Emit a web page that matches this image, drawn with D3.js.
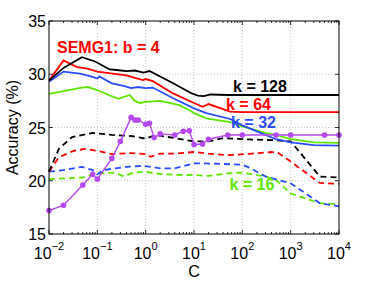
<!DOCTYPE html>
<html>
<head>
<meta charset="utf-8">
<script src="https://cdn.jsdelivr.net/npm/d3@7"></script>
<style>
  body { margin: 0; background: #fff; }
  svg { display: block; font-family: "Liberation Sans", Arial, sans-serif; }
</style>
</head>
<body>
<svg id="chart" width="374" height="281"></svg>
<script>
// values
const c128 = [0.01, 0.02, 0.048, 0.09, 0.18, 0.25, 0.4, 0.6, 0.9, 1.2, 3.7, 9, 12, 16, 22, 50, 10000];
const k128 = [29.4, 30.6, 31.6, 31.2, 30.45, 30.4, 30.3, 30.35, 30.15, 30.3, 29.15, 28.2, 28.0, 27.95, 28.1, 28.05, 28.05];

const c64 = [0.01, 0.02, 0.037, 0.065, 0.1, 0.4, 0.87, 1.0, 1.4, 3.7, 10, 15, 20, 56, 100, 10000];
const k64 = [29.4, 31.3, 30.7, 30.5, 30.25, 29.9, 29.45, 29.55, 29.35, 28.2, 27.3, 26.95, 27.2, 26.5, 26.45, 26.45];

const c32 = [0.01, 0.02, 0.044, 0.08, 0.1, 0.11, 0.2, 0.35, 0.5, 0.7, 1, 1.4, 3.7, 10, 18, 56, 100, 300, 500, 1000, 3000, 10000];
const k32 = [29.3, 30.25, 30.05, 29.75, 29.6, 29.8, 29.15, 28.9, 28.7, 28.8, 28.7, 28.75, 27.75, 26.8, 26.35, 25.8, 25.2, 24.3, 23.9, 23.6, 23.35, 23.3];

const c16 = [0.01, 0.048, 0.065, 0.1, 0.27, 0.47, 0.52, 0.6, 0.77, 1.0, 2, 5, 8.3, 10, 18, 56, 100, 300, 500, 1000, 3000, 10000];
const k16 = [28.15, 28.75, 28.8, 28.5, 27.7, 28.05, 27.8, 27.5, 27.3, 27.4, 27.5, 27.1, 26.6, 26.35, 25.85, 25.5, 25.1, 24.5, 24.3, 23.9, 23.6, 23.55];

// dashed series
const c128d = [0.01, 0.016, 0.03, 0.08, 0.2, 0.5, 1, 1.6, 4, 10, 20, 40, 100, 500, 1000, 4000, 10000];
const k128d = [20.85, 23.0, 24.1, 24.5, 24.3, 24.2, 23.95, 24.3, 24.0, 23.7, 23.7, 24.0, 23.9, 23.8, 23.7, 20.4, 20.3];

const c64d = [0.01, 0.016, 0.032, 0.056, 0.1, 0.2, 0.45, 1, 1.26, 2, 4, 10, 20, 50, 160, 400, 560, 1000, 4000, 10000];
const k64d = [20.85, 22.2, 22.8, 23.0, 22.8, 22.5, 22.6, 22.5, 22.25, 22.55, 22.55, 22.7, 22.55, 22.4, 22.55, 22.7, 22.6, 21.8, 19.8, 19.7];

const c32d = [0.01, 0.02, 0.048, 0.08, 0.1, 0.13, 0.4, 0.9, 2, 4, 10, 30, 100, 150, 300, 1000, 4000, 10000];
const k32d = [20.85, 21.0, 21.3, 21.0, 20.6, 21.0, 21.3, 21.4, 21.17, 21.17, 21.64, 21.6, 21.5, 21.17, 20.4, 19.76, 17.9, 17.6];

const c16d = [0.01, 0.048, 0.1, 0.24, 0.35, 0.55, 0.95, 2, 5, 10, 20, 50, 100, 300, 500, 1000, 4000, 10000];
const k16d = [20.15, 20.3, 20.7, 20.76, 20.4, 20.76, 20.85, 20.63, 20.54, 20.54, 20.45, 20.7, 20.76, 20.4, 20.07, 18.8, 17.9, 17.8];

// purple line with markers
const cP = [0.01, 0.02, 0.05, 0.08, 0.1, 0.2, 0.3, 0.5, 0.6, 0.7, 1, 1.2, 1.5, 2, 4, 6, 8, 10, 15, 20, 50, 100, 500, 1000, 5000, 10000];
const vP = [17.2, 17.7, 19.6, 20.6, 20.15, 22.1, 23.7, 25.95, 25.7, 25.7, 25.3, 25.4, 24.05, 24.4, 24.3, 24.65, 24.7, 23.4, 23.45, 23.9, 24.3, 24.3, 24.3, 24.3, 24.3, 24.3];

const xTicks = [1e-2, 1e-1, 1e0, 1e1, 1e2, 1e3, 1e4];
const xExp = ["\u22122", "\u22121", "0", "1", "2", "3", "4"];
const yTicks = [15, 20, 25, 30, 35];

const GREEN = "#5ce600", BLUE = "#2a4cff", RED = "#ff0000", BLACK = "#000000";

const labels = [
  { text: "k = 128", x: 232, y: 28.36, color: BLACK },
  { text: "k = 64", x: 134, y: 26.64, color: RED },
  { text: "k = 32", x: 170, y: 24.92, color: BLUE },
  { text: "k = 16", x: 158, y: 19.13, color: GREEN }
];

const svg = d3.select("#chart");
const m = { l: 49, r: 35, t: 21, b: 47 };
const W = 374, H = 281;

const x = d3.scaleLog().domain([1e-2, 1e4]).range([m.l, W - m.r]);
const y = d3.scaleLinear().domain([15, 35]).range([H - m.b, m.t]);

// grid
const grid = svg.append("g").attr("stroke", "#b8b8b8").attr("stroke-width", 0.8).attr("stroke-dasharray", "1,2");
grid.selectAll("line.gx").data(xTicks.slice(1, -1)).enter().append("line")
  .attr("x1", d => x(d)).attr("x2", d => x(d)).attr("y1", m.t).attr("y2", H - m.b);
grid.selectAll("line.gy").data(yTicks.slice(1, -1)).enter().append("line")
  .attr("y1", d => y(d)).attr("y2", d => y(d)).attr("x1", m.l).attr("x2", W - m.r);

// ticks inside (matlab style), on all four sides
const minor = [];
for (let e = -2; e < 4; e++) for (let k = 2; k < 10; k++) minor.push(k * Math.pow(10, e));
const tk = svg.append("g").attr("stroke", "#000").attr("stroke-width", 0.8);
[[H - m.b, -1], [m.t, 1]].forEach(([yy, s]) => {
  tk.selectAll(null).data(xTicks).enter().append("line")
    .attr("x1", d => x(d)).attr("x2", d => x(d)).attr("y1", yy).attr("y2", yy + s * 4);
  tk.selectAll(null).data(minor).enter().append("line")
    .attr("x1", d => x(d)).attr("x2", d => x(d)).attr("y1", yy).attr("y2", yy + s * 2);
});
[[m.l, 1], [W - m.r, -1]].forEach(([xx, s]) => {
  tk.selectAll(null).data(yTicks).enter().append("line")
    .attr("y1", d => y(d)).attr("y2", d => y(d)).attr("x1", xx).attr("x2", xx + s * 4);
});

// series
const line = d3.line().x(d => x(d[0])).y(d => y(d[1]));
const zip = (a, b) => a.map((v, i) => [v, b[i]]);

const series = [
  { c: c16d, v: k16d, color: GREEN, dash: "6,4" },
  { c: c32d, v: k32d, color: BLUE, dash: "6,4" },
  { c: c64d, v: k64d, color: RED, dash: "6,4" },
  { c: c128d, v: k128d, color: BLACK, dash: "6,4" },
  { c: c16, v: k16, color: GREEN, dash: null },
  { c: c32, v: k32, color: BLUE, dash: null },
  { c: c64, v: k64, color: RED, dash: null },
  { c: c128, v: k128, color: BLACK, dash: null }
];

const plot = svg.append("g");
series.forEach(s => {
  plot.append("path")
    .attr("d", line(zip(s.c, s.v)))
    .attr("fill", "none")
    .attr("stroke", s.color)
    .attr("stroke-width", 1.8)
    .attr("stroke-dasharray", s.dash);
});

const purple = "#b548f0";
plot.append("path")
  .attr("d", line(zip(cP, vP)))
  .attr("fill", "none").attr("stroke", purple).attr("stroke-width", 1.4);
plot.selectAll("circle").data(zip(cP, vP)).enter().append("circle")
  .attr("cx", d => x(d[0])).attr("cy", d => y(d[1])).attr("r", 2.8).attr("fill", purple);

// box
svg.append("rect")
  .attr("x", m.l).attr("y", m.t).attr("width", W - m.l - m.r).attr("height", H - m.t - m.b)
  .attr("fill", "none").attr("stroke", "#000").attr("stroke-width", 1);

// tick labels
svg.selectAll("text.yl").data(yTicks).enter().append("text")
  .attr("x", m.l - 3).attr("y", d => y(d) + 6)
  .attr("text-anchor", "end").attr("font-size", 16).text(d => d);

const xl = svg.selectAll("text.xl").data(xTicks).enter().append("text")
  .attr("x", d => x(d)).attr("y", H - m.b + 25)
  .attr("text-anchor", "middle").attr("font-size", 16);
xl.append("tspan").text("10");
xl.append("tspan").attr("font-size", 11).attr("dy", -9).text((d, i) => xExp[i]);

svg.append("text").attr("x", (m.l + W - m.r) / 2).attr("y", 277)
  .attr("text-anchor", "middle").attr("font-size", 16).text("C");
svg.append("text")
  .attr("transform", `translate(18,${(m.t + H - m.b) / 2}) rotate(-90)`)
  .attr("text-anchor", "middle").attr("font-size", 16).text("Accuracy (%)");

// annotations
svg.append("text").attr("x", 57).attr("y", 53)
  .attr("font-size", 16).attr("font-weight", "bold").attr("fill", RED).text("SEMG1: b = 4");
labels.forEach(l => {
  svg.append("text").attr("x", x(l.x)).attr("y", y(l.y))
    .attr("text-anchor", "middle").attr("font-size", 16).attr("font-weight", "bold")
    .attr("fill", l.color).text(l.text);
});
</script>
</body>
</html>
